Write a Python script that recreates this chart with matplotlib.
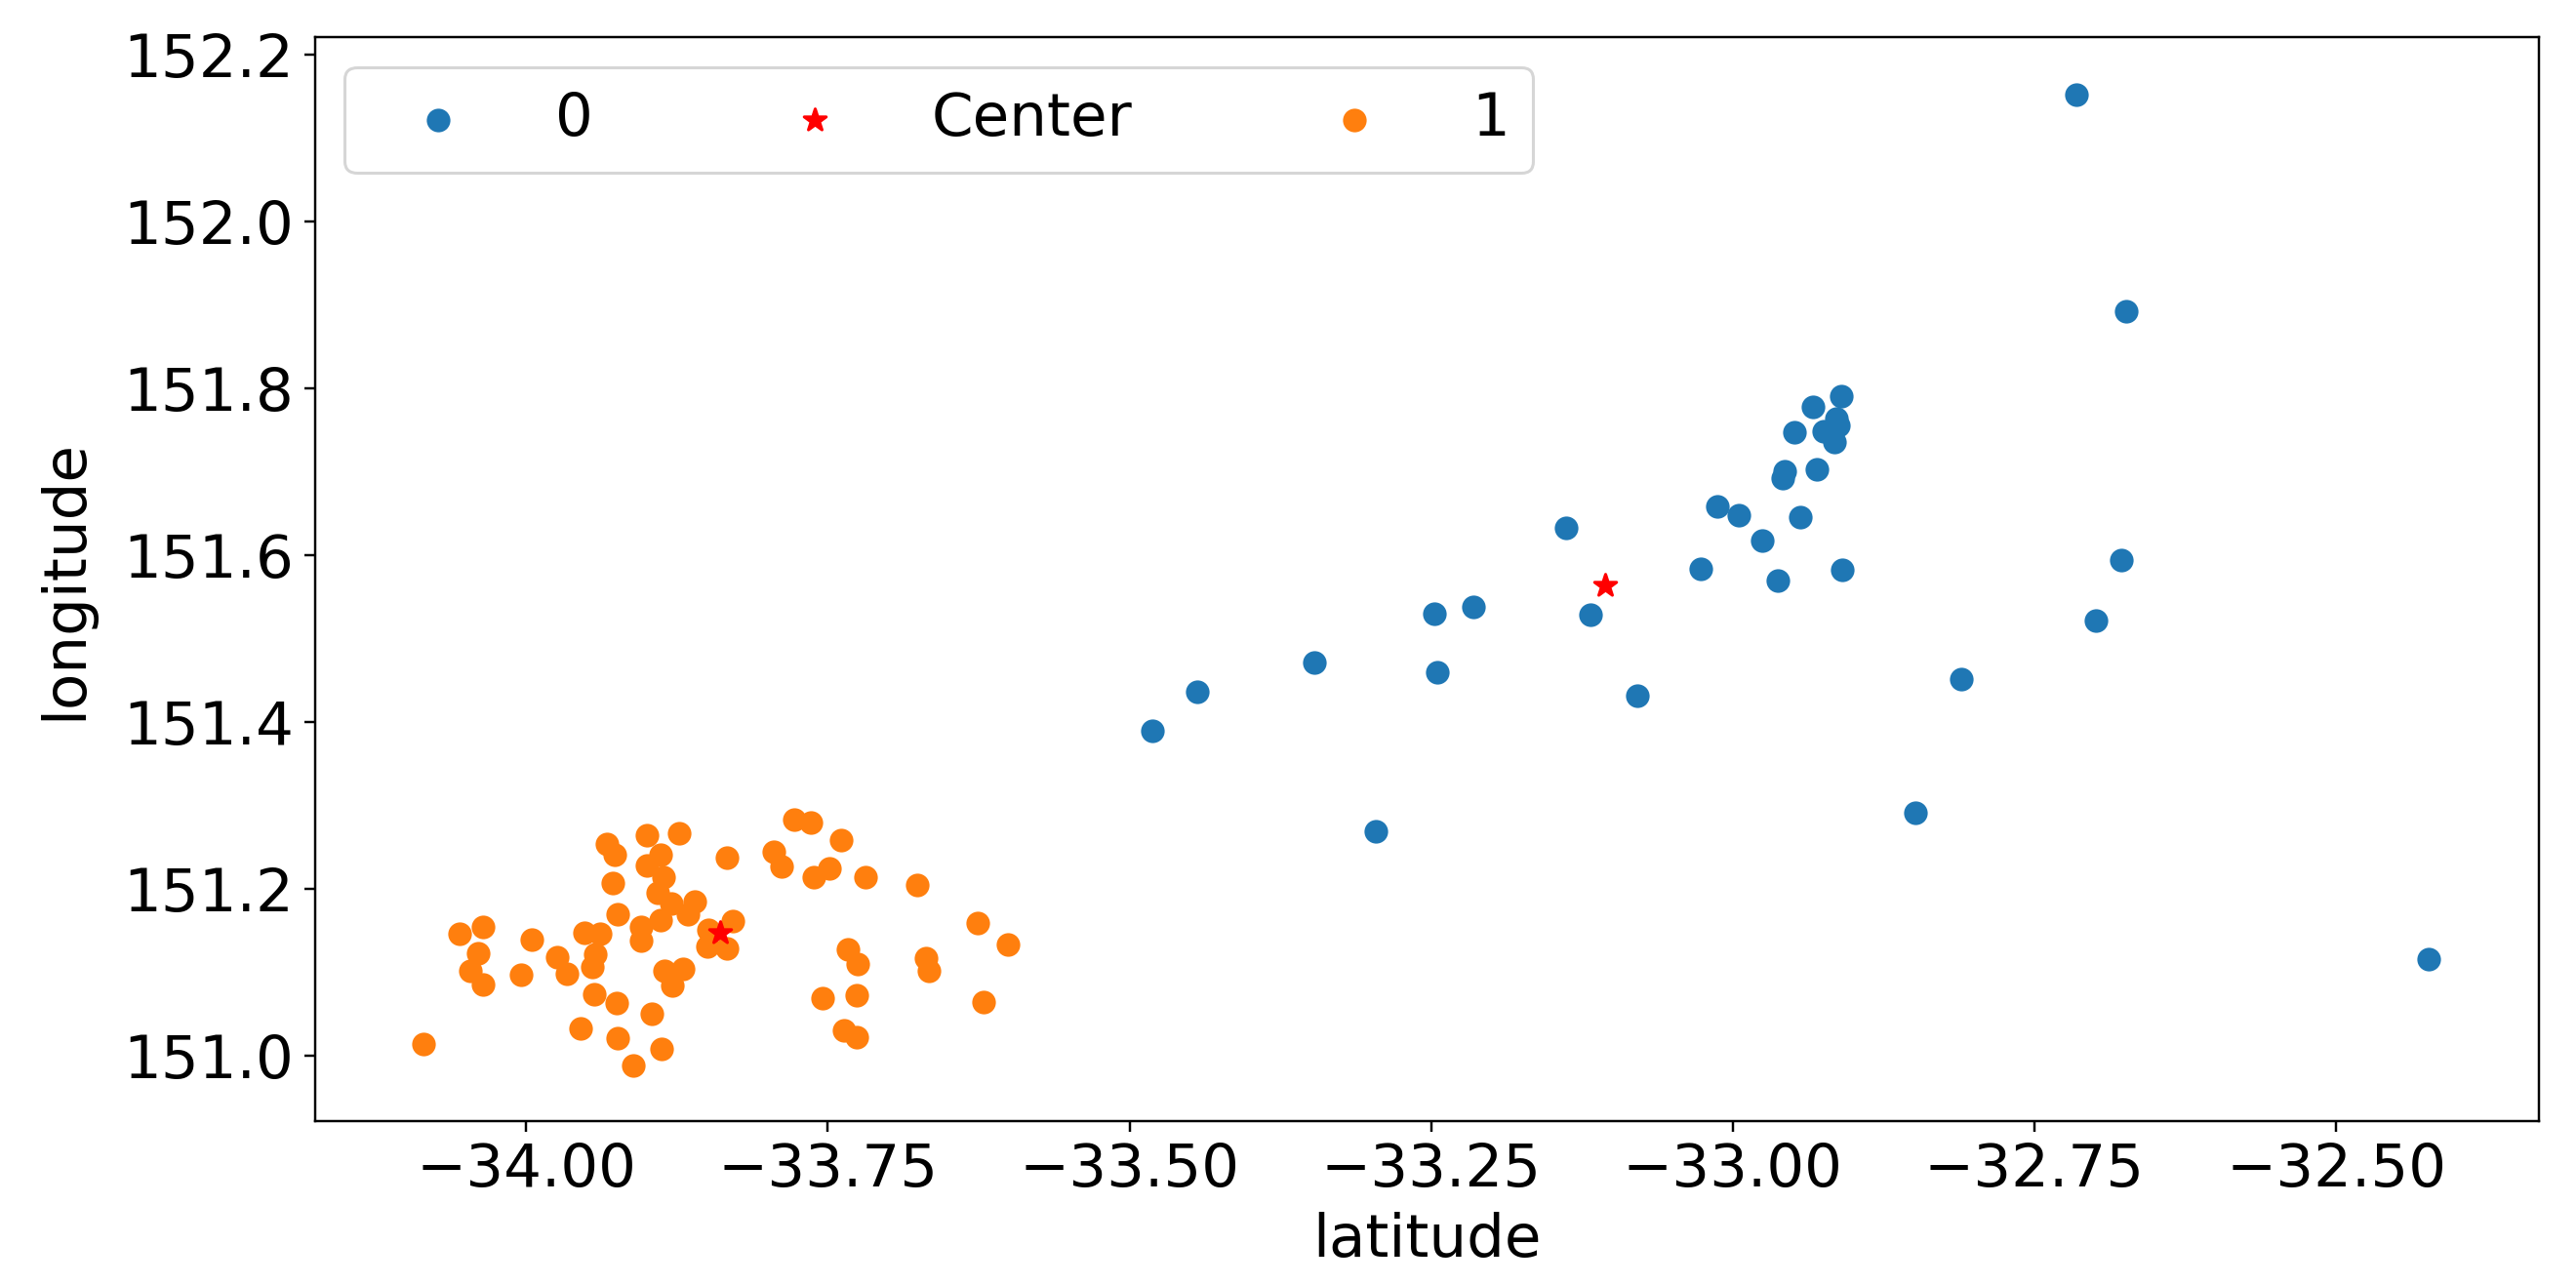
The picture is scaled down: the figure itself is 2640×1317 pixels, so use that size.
import matplotlib
matplotlib.use("Agg")
import matplotlib.pyplot as plt

# cluster 0 (blue)
lat_0 = [-32.715, -32.674, -32.678, -32.699, -32.423,
         -32.910, -32.934, -32.914, -32.913, -32.949, -32.925, -32.916,
         -32.957, -32.959, -32.930, -33.013, -32.995, -32.944, -32.976,
         -33.027, -32.963, -32.909,
         -33.481, -33.444, -33.347, -33.296, -33.247, -33.245, -33.215,
         -33.138, -33.118, -33.079, -32.811, -32.849]
lon_0 = [152.152, 151.892, 151.594, 151.522, 151.116,
         151.790, 151.777, 151.763, 151.755, 151.747, 151.748, 151.735,
         151.700, 151.692, 151.703, 151.658, 151.648, 151.645, 151.617,
         151.584, 151.570, 151.582,
         151.390, 151.436, 151.471, 151.269, 151.530, 151.460, 151.538,
         151.633, 151.529, 151.431, 151.451, 151.291]

# cluster 1 (orange)
lat_1 = [-34.085, -34.055, -34.036, -34.040, -34.046, -34.036, -33.995, -34.004,
         -33.974, -33.966, -33.952, -33.939, -33.943, -33.945, -33.944, -33.925,
         -33.955, -33.924, -33.896, -33.911, -33.888, -33.933, -33.927, -33.900,
         -33.873, -33.889, -33.900, -33.886, -33.928, -33.891, -33.880, -33.860,
         -33.866, -33.889, -33.924, -33.905, -33.905, -33.834, -33.849, -33.829,
         -33.850, -33.834, -33.885, -33.870, -33.879, -33.778, -33.764, -33.739,
         -33.795, -33.788, -33.749, -33.762, -33.719, -33.676, -33.626, -33.601,
         -33.733, -33.725, -33.669, -33.666, -33.754, -33.726, -33.621, -33.737,
         -33.726]
lon_1 = [151.014, 151.146, 151.155, 151.123, 151.102, 151.085, 151.139, 151.097,
         151.118, 151.098, 151.148, 151.146, 151.122, 151.107, 151.074, 151.063,
         151.033, 151.021, 151.050, 150.988, 151.009, 151.254, 151.241, 151.264,
         151.267, 151.241, 151.228, 151.214, 151.207, 151.196, 151.183, 151.185,
         151.170, 151.163, 151.170, 151.154, 151.138, 151.237, 151.151, 151.162,
         151.131, 151.129, 151.102, 151.104, 151.084, 151.283, 151.280, 151.259,
         151.244, 151.227, 151.225, 151.214, 151.214, 151.205, 151.159, 151.133,
         151.128, 151.110, 151.117, 151.102, 151.069, 151.073, 151.064, 151.031,
         151.022]

# cluster centers
center_lat = [-33.106, -33.839]
center_lon = [151.564, 151.148]

plt.rcParams["font.size"] = 20

fig = plt.figure(figsize=(12, 1317 / 220))
fig.subplots_adjust(left=0.1223, right=0.9856, top=0.9708, bottom=0.1276)

plt.scatter(lat_0, lon_0, s=48, c="#1f77b4", label="0")
plt.scatter(center_lat[0], center_lon[0], s=60, c="red", marker="*", label="Center")
plt.scatter(lat_1, lon_1, s=48, c="#ff7f0e", label="1")
plt.scatter(center_lat[1], center_lon[1], s=60, c="red", marker="*")

plt.xlim(-34.175, -32.332)
plt.ylim(150.922, 152.22)
plt.xlabel("latitude")
plt.ylabel("longitude", labelpad=10)
plt.legend(loc="upper left", ncol=3, handlelength=2.33, columnspacing=2.55)

plt.savefig("out.png", dpi=220)
